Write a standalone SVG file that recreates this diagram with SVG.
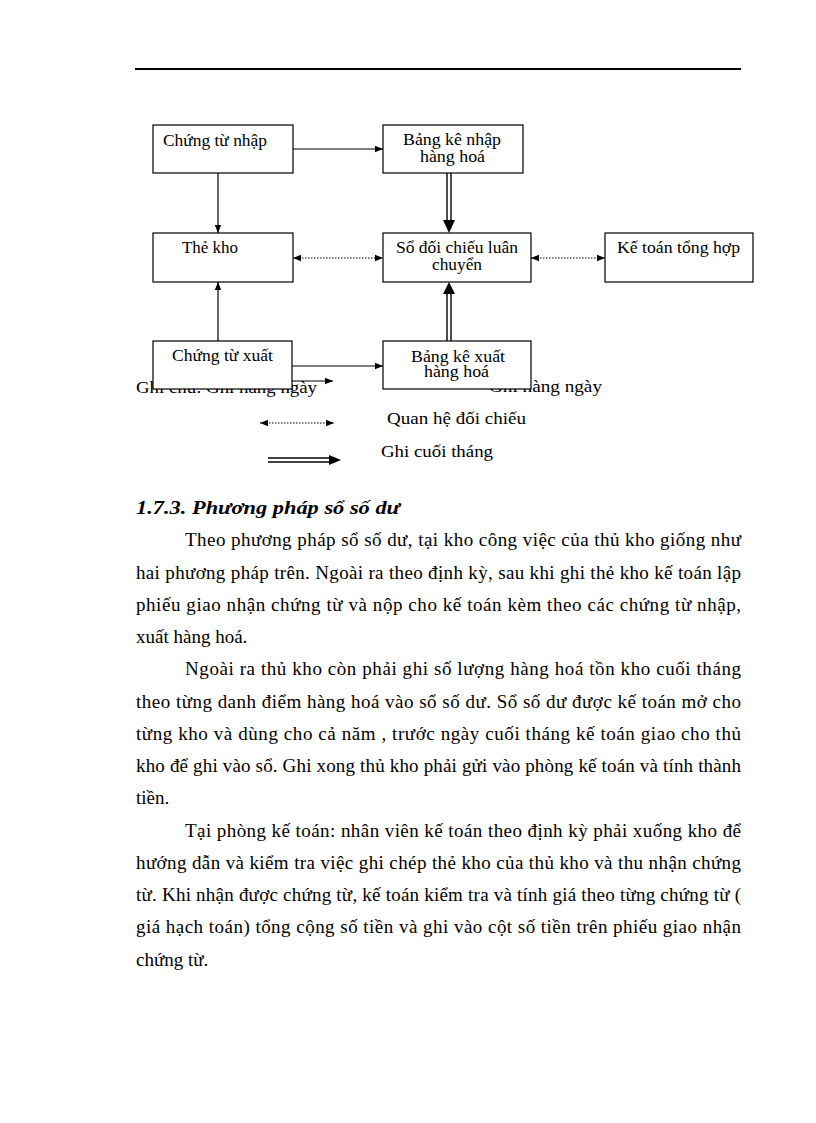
<svg xmlns="http://www.w3.org/2000/svg" width="816" height="1123" viewBox="0 0 816 1123">
<style>
  .bg { fill: #ffffff; }
  .box { fill: #ffffff; stroke: #000000; stroke-width: 1.2; }
  .lbl { font-family: "Liberation Serif", "Times New Roman", serif; font-size: 16px; fill: #000000; }
  .leg { font-family: "Liberation Serif", "Times New Roman", serif; font-size: 17.5px; fill: #000000; }
  .body { font-family: "Liberation Serif", "Times New Roman", serif; font-size: 19px; fill: #000000; }
  .head { font-family: "Liberation Serif", "Times New Roman", serif; font-size: 18.5px; font-weight: bold; font-style: italic; fill: #000000; }
  .solid { stroke: #000000; stroke-width: 1.2; fill: none; }
  .dot { stroke: #000000; stroke-width: 1; stroke-dasharray: 1.5 1.5; fill: none; }
  .dbl { stroke: #000000; stroke-width: 1.4; fill: none; }
  .head-tri { fill: #000000; }
</style>
<defs>
  <marker id="arr" viewBox="0 0 8 8" refX="8" refY="4" markerWidth="8" markerHeight="8" markerUnits="userSpaceOnUse" orient="auto-start-reverse">
    <path d="M0,0.8 L8,4 L0,7.2 Z" fill="#000000"/>
  </marker>
</defs>
<rect class="bg" x="0" y="0" width="816" height="1123"/>

<!-- page header rule -->
<line x1="135" y1="69" x2="741" y2="69" stroke="#000000" stroke-width="2"/>

<!-- legend (partly covered by boxes) -->
<g id="legend">
  <text class="leg" x="136" y="393" textLength="181" lengthAdjust="spacingAndGlyphs">Ghi chú: Ghi hàng ngày</text>
  <line class="solid" x1="260" y1="381" x2="333" y2="381" marker-end="url(#arr)"/>
  <text class="leg" x="489" y="392" textLength="113" lengthAdjust="spacingAndGlyphs">Ghi hàng ngày</text>
  <line class="dot" x1="260" y1="423" x2="334" y2="423" marker-start="url(#arr)" marker-end="url(#arr)"/>
  <text class="leg" x="387" y="424" textLength="139" lengthAdjust="spacingAndGlyphs">Quan hệ đối chiếu</text>
  <line class="dbl" x1="268" y1="458" x2="331" y2="458"/>
  <line class="dbl" x1="268" y1="462" x2="331" y2="462"/>
  <polygon class="head-tri" points="341,460 329,455 329,465"/>
  <text class="leg" x="381" y="457" textLength="112" lengthAdjust="spacingAndGlyphs">Ghi cuối tháng</text>
</g>

<!-- connectors -->
<g id="connectors">
  <line class="solid" x1="293" y1="149" x2="383" y2="149" marker-end="url(#arr)"/>
  <line class="solid" x1="218" y1="173" x2="218" y2="233" marker-end="url(#arr)"/>
  <line class="solid" x1="218" y1="341" x2="218" y2="282" marker-end="url(#arr)"/>
  <line class="solid" x1="292" y1="366" x2="383" y2="366" marker-end="url(#arr)"/>
  <line class="dot" x1="293" y1="258" x2="383" y2="258" marker-start="url(#arr)" marker-end="url(#arr)"/>
  <line class="dot" x1="531" y1="258" x2="605" y2="258" marker-start="url(#arr)" marker-end="url(#arr)"/>
  <line class="dbl" x1="447" y1="173" x2="447" y2="222"/>
  <line class="dbl" x1="451" y1="173" x2="451" y2="222"/>
  <polygon class="head-tri" points="449,233 443,220 455,220"/>
  <line class="dbl" x1="447" y1="341" x2="447" y2="292"/>
  <line class="dbl" x1="451" y1="341" x2="451" y2="292"/>
  <polygon class="head-tri" points="449,282 443,294 455,294"/>
</g>

<!-- nodes -->
<g id="chung-tu-nhap">
  <rect class="box" x="153" y="125" width="140" height="48"/>
  <text class="lbl" x="163" y="146" textLength="104" lengthAdjust="spacingAndGlyphs">Chứng từ nhập</text>
</g>
<g id="bang-ke-nhap">
  <rect class="box" x="383" y="125" width="140" height="48"/>
  <text class="lbl" x="403" y="145" textLength="98" lengthAdjust="spacingAndGlyphs">Bảng kê nhập</text>
  <text class="lbl" x="420" y="162" textLength="65" lengthAdjust="spacingAndGlyphs">hàng hoá</text>
</g>
<g id="the-kho">
  <rect class="box" x="153" y="233" width="140" height="49"/>
  <text class="lbl" x="182" y="253" textLength="56" lengthAdjust="spacingAndGlyphs">Thẻ kho</text>
</g>
<g id="so-doi-chieu">
  <rect class="box" x="383" y="233" width="148" height="49"/>
  <text class="lbl" x="396" y="253" textLength="122" lengthAdjust="spacingAndGlyphs">Sổ đối chiếu luân</text>
  <text class="lbl" x="432" y="270" textLength="50" lengthAdjust="spacingAndGlyphs">chuyển</text>
</g>
<g id="ke-toan-tong-hop">
  <rect class="box" x="605" y="233" width="148" height="49"/>
  <text class="lbl" x="617" y="253" textLength="123" lengthAdjust="spacingAndGlyphs">Kế toán tổng hợp</text>
</g>
<g id="chung-tu-xuat">
  <rect class="box" x="153" y="341" width="139" height="48"/>
  <text class="lbl" x="172" y="361" textLength="101" lengthAdjust="spacingAndGlyphs">Chứng từ xuất</text>
</g>
<g id="bang-ke-xuat">
  <rect class="box" x="383" y="341" width="148" height="48"/>
  <text class="lbl" x="411" y="362" textLength="94" lengthAdjust="spacingAndGlyphs">Bảng kê xuất</text>
  <text class="lbl" x="424" y="377" textLength="65" lengthAdjust="spacingAndGlyphs">hàng hoá</text>
</g>

<!-- body text -->
<g id="body-text">
  <text class="head" x="136" y="514" textLength="264" lengthAdjust="spacingAndGlyphs">1.7.3. Phương pháp sổ số dư</text>
  <text class="body" x="185" y="546" textLength="556" lengthAdjust="spacing">Theo phương pháp sổ số dư, tại kho công việc của thủ kho giống như</text>
  <text class="body" x="136" y="579" textLength="605" lengthAdjust="spacing">hai phương pháp trên. Ngoài ra theo định kỳ, sau khi ghi thẻ kho kế toán lập</text>
  <text class="body" x="136" y="611" textLength="605" lengthAdjust="spacing">phiếu giao nhận chứng từ và nộp cho kế toán kèm theo các chứng từ nhập,</text>
  <text class="body" x="136" y="643">xuất hàng hoá.</text>
  <text class="body" x="185" y="675" textLength="556" lengthAdjust="spacing">Ngoài ra thủ kho còn phải ghi số lượng hàng hoá tồn kho cuối tháng</text>
  <text class="body" x="136" y="708" textLength="605" lengthAdjust="spacing">theo từng danh điểm hàng hoá vào sổ số dư. Sổ số dư được kế toán mở cho</text>
  <text class="body" x="136" y="740" textLength="605" lengthAdjust="spacing">từng kho và dùng cho cả năm , trước ngày cuối tháng kế toán giao  cho thủ</text>
  <text class="body" x="136" y="772" textLength="605" lengthAdjust="spacing">kho để ghi vào sổ. Ghi xong thủ kho phải gửi vào phòng kế toán và tính thành</text>
  <text class="body" x="136" y="804">tiền.</text>
  <text class="body" x="185" y="837" textLength="556" lengthAdjust="spacing">Tại phòng kế toán: nhân viên kế toán theo định kỳ phải xuống kho để</text>
  <text class="body" x="136" y="869" textLength="605" lengthAdjust="spacing">hướng dẫn và kiểm tra việc ghi chép thẻ kho của thủ kho và thu nhận chứng</text>
  <text class="body" x="136" y="901" textLength="605" lengthAdjust="spacing">từ. Khi nhận được chứng từ, kế toán kiểm tra và tính giá theo từng chứng từ (</text>
  <text class="body" x="136" y="933" textLength="605" lengthAdjust="spacing">giá hạch toán) tổng cộng số tiền và ghi vào cột số tiền trên phiếu giao nhận</text>
  <text class="body" x="136" y="966">chứng từ.</text>
</g>
</svg>
